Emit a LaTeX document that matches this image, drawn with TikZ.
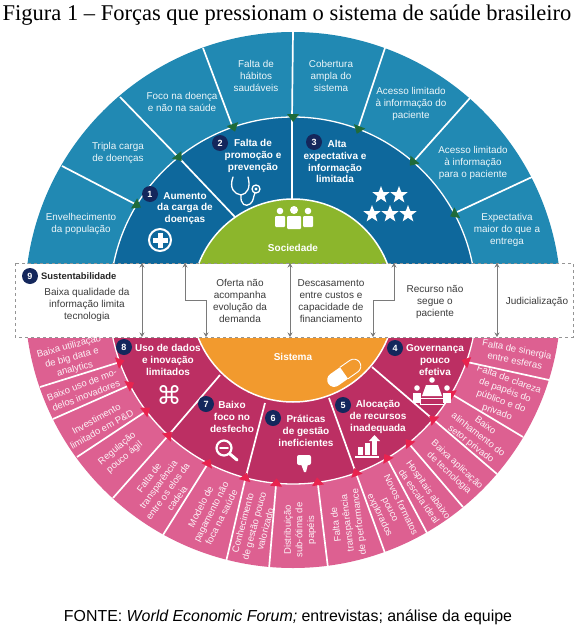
\documentclass[tikz,border=0pt]{standalone}
\usepackage{fontspec}
\setmainfont{Liberation Sans}
\newfontfamily\serifttl{Liberation Serif}
\newfontfamily\djv{DejaVu Sans}
\usetikzlibrary{shapes.geometric,arrows.meta}
\definecolor{bluea}{HTML}{2189B3}
\definecolor{blueb}{HTML}{0E689C}
\definecolor{pinka}{HTML}{DD6091}
\definecolor{pinkb}{HTML}{BC2F63}
\definecolor{greenc}{HTML}{8CB62C}
\definecolor{orangec}{HTML}{F29A2E}
\definecolor{navyb}{HTML}{14275C}
\definecolor{greent}{HTML}{1F6B3A}
\definecolor{redt}{HTML}{E8234F}
\definecolor{arrg}{HTML}{7A7A7A}
\definecolor{txtg}{HTML}{3C3C3C}
\tikzset{
 x=1pt,y=-1pt,
 outerlab/.style={text=white!92!bluea,inner sep=0pt,align=center,font=\fontsize{9.9}{11.8}\selectfont},
 pinklab/.style={text=white!92!pinka,inner sep=0pt,align=center,font=\fontsize{9.5}{11.6}\selectfont},
 midlab/.style={text=white,inner sep=0pt,align=center,font=\bfseries\fontsize{10}{11.8}\selectfont},
 bandlab/.style={text=txtg,inner sep=0pt,align=center,font=\fontsize{10}{11.9}\selectfont},
 badge/.style={circle,fill=navyb,text=white,inner sep=0pt,minimum size=16pt,font=\bfseries\fontsize{9}{9}\selectfont},
 spoke/.style={white,line width=1.7pt},
 bandarrow/.style={arrg,line width=1pt,{Stealth[length=4.5pt,width=5pt]}-{Stealth[length=4.5pt,width=5pt]}},
 icon/.style={white,line width=1.5pt,line cap=round},
 starmark/.style={star,star points=5,star point ratio=2.4,fill=white,inner sep=0pt,minimum size=18pt}
}
\begin{document}
\begin{tikzpicture}
\useasboundingbox (0,0) rectangle (587,629);
\fill[white] (0,0) rectangle (587,629);
% ---------- upper half
\begin{scope}
\clip (0,0) rectangle (587,263);
\fill[bluea] (293,300) circle (268pt);
\draw[spoke] (62,166)--(137,205);
\draw[spoke] (120,97)--(180,159);
\draw[spoke] (203,48)--(233,128);
\draw[spoke] (293,31)--(292,119);
\draw[spoke] (385,48)--(358,129);
\draw[spoke] (470,98)--(413,162);
\draw[spoke] (532,177)--(457,212);
\fill[blueb] (293,300) circle (183pt);
\draw[white,line width=1.3pt] (293,300) circle (183pt);
\draw[spoke] (180,159)--(235,217);
\draw[spoke,line width=1.3pt] (292,119)--(292,200);
\fill[greenc] (293,300) circle (101pt);
\draw[white,line width=1.5pt] (293,300) circle (101pt);
\foreach \a in {148.7,128.7,109,90,69,49,28}
  \fill[greent,shift={({293+183*cos(\a)},{300-183*sin(\a)})},rotate=\a-90] (-6,-3)--(6,-3)--(0,5)--cycle;
\end{scope}
% ---------- lower half
\begin{scope}
\clip (0,338) rectangle (587,629);
\fill[pinka] (293,300) circle (268pt);
\draw[spoke] (40,387)--(120,362);
\draw[spoke] (53,419)--(130,385);
\draw[spoke] (77,457)--(145,412);
\draw[spoke] (113,498)--(167,437);
\draw[spoke] (163,535)--(207,465);
\draw[spoke] (226,562)--(245,480);
\draw[spoke] (269,569)--(276,485);
\draw[spoke] (328,568)--(318,485);
\draw[spoke] (385,553)--(357,476);
\draw[spoke] (427,533)--(388,460);
\draw[spoke] (463,507)--(410,445);
\draw[spoke] (497,474)--(435,421);
\draw[spoke] (523,437)--(453,395);
\draw[spoke] (549,380)--(467,362);
\fill[pinkb] (293,300) circle (184pt);
\draw[white,line width=1.3pt] (293,300) circle (184pt);
\draw[spoke] (167,437)--(220,375);
\draw[spoke] (245,480)--(265,403);
\draw[spoke] (357,476)--(329,398);
\draw[spoke] (435,421)--(372,367);
\fill[orangec] (293,300) circle (102pt);
\draw[white,line width=1.5pt] (293,300) circle (102pt);
\foreach \a in {199.7,207.5,217,227.4,242.5,255,264.8,277.7,290,300.7,309,319.6,329.3,340.4}
  \fill[redt,shift={({293+184*cos(\a)},{300-184*sin(\a)})},rotate=\a-90] (-6,-3)--(6,-3)--(0,5)--cycle;
\end{scope}
% ---------- band
\draw[arrg!80,line width=0.7pt,dashed] (15,263) rectangle (573,337);
\coordinate (a1t) at (142,263); \coordinate (a1b) at (142,337);
\coordinate (a2t) at (185,263); \coordinate (a2p) at (185,300); \coordinate (a2q) at (206,300); \coordinate (a2b) at (206,337);
\coordinate (a3t) at (290,263); \coordinate (a3b) at (290,337);
\coordinate (a4t) at (394,263); \coordinate (a4p) at (394,300); \coordinate (a4q) at (373,300); \coordinate (a4b) at (373,337);
\coordinate (a5t) at (497,263); \coordinate (a5b) at (497,337);
\draw[bandarrow] (a1t)--(a1b);
\draw[bandarrow] (a2t)--(a2p)--(a2q)--(a2b);
\draw[bandarrow] (a3t)--(a3b);
\draw[bandarrow] (a4t)--(a4p)--(a4q)--(a4b);
\draw[bandarrow] (a5t)--(a5b);
\node[badge] (b9) at (30,276) {9};
\node[anchor=west,text=black!85,inner sep=0pt,font=\bfseries\fontsize{9.4}{11}\selectfont] (sus) at (41,276) {Sustentabilidade};
\node[bandlab] (l9) at (87,305) {Baixa qualidade da\\informação limita\\tecnologia};
\node[bandlab] (lo) at (240,301) {Oferta não\\acompanha\\evolução da\\demanda};
\node[bandlab] (ld) at (331,301) {Descasamento\\entre custos e\\capacidade de\\financiamento};
\node[bandlab] (lr) at (435,302) {Recurso não\\segue o\\paciente};
\node[bandlab] (lj) at (537,302) {Judicialização};
% ---------- title and source
\node[inner sep=0pt,text=black,font=\serifttl\fontsize{22.5}{25}\selectfont] (title) at (287,15) {Figura 1 – Forças que pressionam o sistema de saúde brasileiro};
\node[inner sep=0pt,text=black,font=\fontsize{15.9}{18}\selectfont] (fonte) at (288,617) {FONTE: \textit{World Economic Forum;} entrevistas; análise da equipe};
% ---------- outer top labels
\node[outerlab] (o1) at (81,224) {Envelhecimento\\da população};
\node[outerlab] (o2) at (118,153) {Tripla carga\\de doenças};
\node[outerlab] (o3) at (182,102) {Foco na doença\\e não na saúde};
\node[outerlab] (o4) at (256,76) {Falta de\\hábitos\\saudáveis};
\node[outerlab] (o5) at (331,76) {Cobertura\\ampla do\\sistema};
\node[outerlab] (o6) at (411,104) {Acesso limitado\\à informação do\\paciente};
\node[outerlab] (o7) at (473,163) {Acesso limitado\\à informação\\para o paciente};
\node[outerlab] (o8) at (507,230) {Expectativa\\maior do que a\\entrega};
% ---------- middle labels and badges
\node[badge] (b1) at (150,194) {1};
\node[midlab] (m1) at (185,208.5) {Aumento\\da carga de\\doenças};
\node[badge] (b2) at (220,143) {2};
\node[midlab] (m2) at (253,156) {Falta de\\promoção e\\prevenção};
\node[badge] (b3) at (314,142) {3};
\node[midlab] (m3a) at (337,144) {Alta};
\node[midlab] (m3) at (335,167.5) {expectativa e\\informação\\limitada};
\node[badge] (b4) at (395,348) {4};
\node[midlab] (m4) at (435,360) {Governança\\pouco\\efetiva};
\node[badge] (b5) at (343,405) {5};
\node[midlab] (m5) at (378,417) {Alocação\\de recursos\\inadequada};
\node[badge] (b6) at (273,418) {6};
\node[midlab] (m6) at (306,431) {Práticas\\de gestão\\ineficientes};
\node[badge] (b7) at (206,404) {7};
\node[midlab] (m7) at (232,417) {Baixo\\foco no\\desfecho};
\node[badge] (b8) at (124,347) {8};
\node[midlab] (m8) at (168,360) {Uso de dados\\e inovação\\limitados};
\node[midlab] (soc) at (293,248) {Sociedade};
\node[midlab] (sis) at (293,357) {Sistema};
% ---------- outer bottom labels
\node[pinklab,rotate=-11] (p1) at (516,355) {Falta de sinergia\\entre esferas};
\node[pinklab,rotate=-20] (p2) at (503,396) {Falta de clareza\\de papéis do\\público e do\\privado};
\node[pinklab,rotate=-38] (p3) at (478,435) {Baixo\\alinhamento do\\setor privado};
\node[pinklab,rotate=-43] (p4) at (453,469) {Baixa aplicação\\de tecnologia};
\node[pinklab,rotate=-55] (p5) at (424,493) {Hospitais abaixo\\da escala ideal};
\node[pinklab,rotate=-64] (p6) at (390,510) {Novos formatos\\pouco\\explorados};
\node[pinklab,rotate=97] (p7) at (348,523) {Falta de\\transparência\\de performance};
\node[pinklab,rotate=90] (p8) at (300,530) {Distribuição\\sub-ótima de\\papéis};
\node[pinklab,rotate=75] (p9) at (254,526) {Conhecimento\\de gestão pouco\\valorizado};
\node[pinklab,rotate=63] (p10) at (211,512) {Modelo de\\pagamento não\\foca na saúde};
\node[pinklab,rotate=54] (p11) at (163,488) {Falta de\\transparência\\entre os elos da\\cadeia};
\node[pinklab,rotate=40] (p12) at (121,453) {Regulação\\pouco ágil};
\node[pinklab,rotate=29] (p13) at (99,424) {Investimento\\limitado em P\&D};
\node[pinklab,rotate=21] (p14) at (84,390) {Baixo uso de mo-\\delos inovadores};
\node[pinklab,rotate=15] (p15) at (72,358) {Baixa utilização\\de big data e\\analytics};
% ---------- icons
% plus in circle
\draw[icon,line width=2pt] (160,240) circle (11pt);
\fill[white] (157.5,232.5) rectangle (162.5,247.5);
\fill[white] (152.5,237.5) rectangle (167.5,242.5);
% stethoscope
\draw[icon,line width=1.3pt] (233,177) .. controls (229,188) and (234,194) .. (241,195) .. controls (247,194) and (251,188) .. (248,177);
\draw[icon,line width=1.3pt] (241,195) .. controls (240,205) and (246,207) .. (250,204) .. controls (254,201) and (253,197) .. (255,193);
\draw[icon,line width=1.3pt] (256,189) circle (4pt);
\fill[white] (256,189) circle (1.6pt);
% stars
\node[starmark] (s1) at (381,195) {};
\node[starmark] (s2) at (399,195) {};
\node[starmark] (s3) at (372,214) {};
\node[starmark] (s4) at (390,214) {};
\node[starmark] (s5) at (408,214) {};
% people
\foreach \x in {280,308} {
  \fill[white] (\x,211) circle (3.3pt);
  \fill[white,rounded corners=1pt] (\x-5,216) rectangle (\x+5,227);
}
\fill[white] (294,210) circle (4pt);
\fill[white,rounded corners=1pt] (287,216) rectangle (301,229);
% pill
\begin{scope}[shift={(344,373)},rotate=35]
  \fill[white] (0,-7) -- (-12,-7) arc (90:270:7pt) -- (0,7) -- cycle;
  \draw[white,line width=0.9pt] (0,-7) -- (12,-7) arc (90:-90:7pt) -- (0,7);
\end{scope}
% conference
\fill[white] (432,380) circle (2.8pt);
\fill[white] (417,388) circle (2.8pt);
\fill[white] (447,388) circle (2.8pt);
\fill[white] (426,385)--(438,385)--(442,396)--(422,396)--cycle;
\fill[white] (413,393) rectangle (421,403);
\fill[white] (443,393) rectangle (451,403);
\draw[white,line width=1pt] (420,398) rectangle (444,404);
% bar chart
\fill[white] (358,447) rectangle (363,455);
\fill[white] (365,443) rectangle (370,455);
\fill[white] (372,441) rectangle (377,455);
\fill[white] (369,441)--(380,441)--(374.5,435)--cycle;
\fill[white] (355,456) rectangle (379,457.5);
% thumb down
\fill[white,rounded corners=2pt] (297,455) rectangle (311,465);
\fill[white] (301,464)--(308,464)--(306,472)--(304,472)--cycle;
% magnifier
\draw[icon,line width=2.2pt] (224,448) circle (7.5pt);
\draw[icon,line width=1.6pt] (220,448)--(228,448);
\draw[icon,line width=3pt] (230,454)--(237,460);
% command symbol
\node[inner sep=0pt,text=white,font=\djv\fontsize{25}{25}\selectfont] (cmd) at (169,395) {⌘};
\end{tikzpicture}
\end{document}
